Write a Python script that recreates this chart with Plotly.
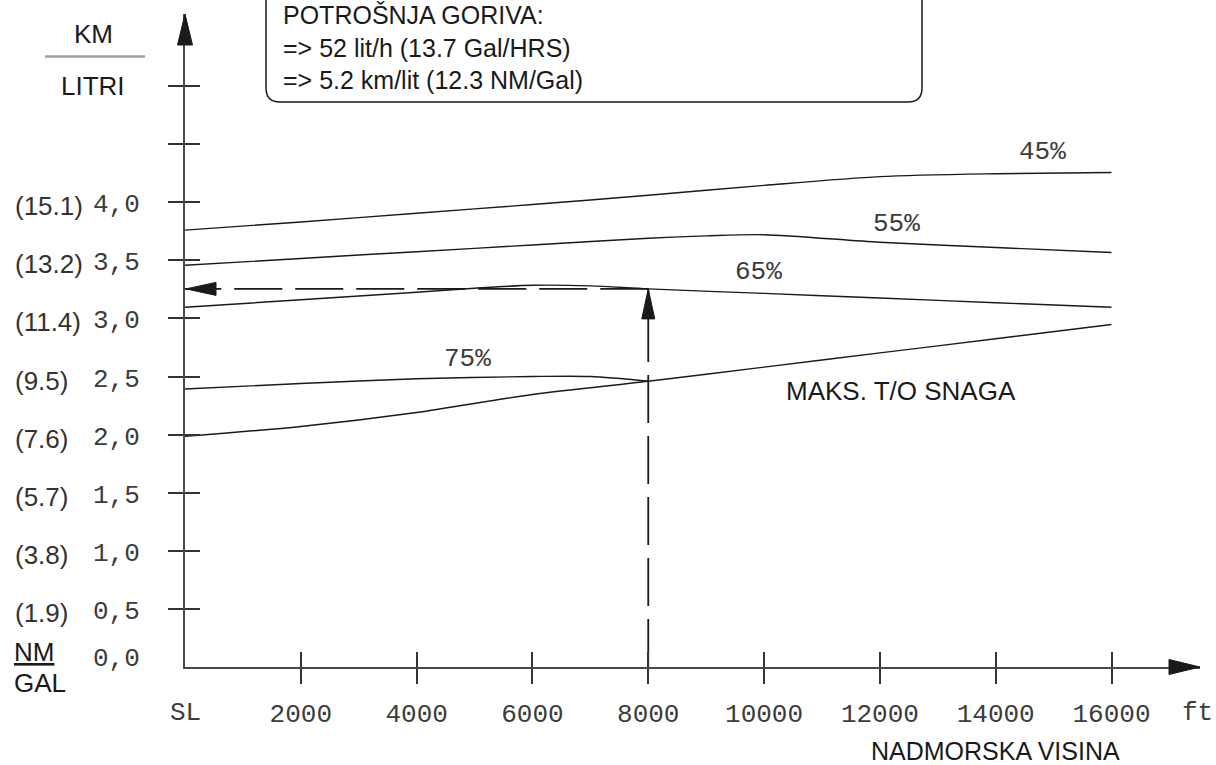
import plotly.graph_objects as go

# ---------------- data ----------------
alt_ft = [0, 2000, 4000, 6000, 8000, 10000, 12000, 14000, 16000]
x_tick_vals = [2000, 4000, 6000, 8000, 10000, 12000, 14000, 16000]
x_tick_text = ["2000", "4000", "6000", "8000", "10000", "12000", "14000", "16000"]

pwr45 = [3.76, 3.83, 3.905, 3.98, 4.06, 4.145, 4.22, 4.245, 4.255]
alt_55 = [0, 2000, 4000, 6000, 8000, 9000, 10000, 12000, 14000, 16000]
pwr55 = [3.457, 3.516, 3.574, 3.632, 3.69, 3.71, 3.72, 3.655, 3.61, 3.567]
alt_65 = [0, 2000, 4000, 5000, 6000, 7000, 8000, 10000, 12000, 14000, 16000]
pwr65 = [3.096, 3.16, 3.225, 3.26, 3.285, 3.28, 3.254, 3.215, 3.175, 3.135, 3.096]
alt_75 = [0, 2000, 4000, 6000, 7000, 8000]
pwr75 = [2.393, 2.44, 2.48, 2.50, 2.50, 2.46]
max_to = [1.985, 2.07, 2.19, 2.345, 2.459, 2.581, 2.703, 2.825, 2.947]

example_alt = 8000
example_km_l = 3.254

y_tick_vals = [0.5, 1.0, 1.5, 2.0, 2.5, 3.0, 3.5, 4.0, 4.5, 5.0]
y_label_vals = [4.0, 3.5, 3.0, 2.5, 2.0, 1.5, 1.0, 0.5, 0.0]
y_label_km = ["4,0", "3,5", "3,0", "2,5", "2,0", "1,5", "1,0", "0,5", "0,0"]
y_label_nm = ["(15.1)", "(13.2)", "(11.4)", "(9.5)", "(7.6)", "(5.7)", "(3.8)", "(1.9)", ""]

curve_labels = ["45%", "55%", "65%", "75%"]
curve_label_x = [14800, 12280, 9910, 4880]
curve_label_y = [4.436, 3.815, 3.398, 2.654]

box_lines = ["POTROŠNJA GORIVA:", "=> 52 lit/h (13.7 Gal/HRS)", "=> 5.2 km/lit (12.3 NM/Gal)"]

# ---------------- style ----------------
W, H = 1216, 765
ML, MR, MT, MB = 185, 16, 14, 98
PW, PH = W - ML - MR, H - MT - MB
PX_PER_FT = 926.5 / 16000
PX_PER_UNIT = 116.2
XMAX = PW / PX_PER_FT
YMAX = PH / PX_PER_UNIT

TXT = "Liberation Sans, Arial, sans-serif"
NUM = "Liberation Mono, DejaVu Sans Mono, monospace"
INK = "#1a1a1a"
NUMC = "#3c3c3c"
AX = "#4a4a4a"


def px_x(p):
    return (p - ML) / PW


def px_y(p):
    return (H - MB - p) / PH


fig = go.Figure()
line_style = dict(color=INK, width=1.4, shape="spline", smoothing=0.8)
for xs, ys in [(alt_ft, pwr45), (alt_55, pwr55), (alt_65, pwr65), (alt_75, pwr75), (alt_ft, max_to)]:
    fig.add_trace(go.Scatter(x=xs, y=ys, mode="lines", line=line_style, hoverinfo="skip", showlegend=False))

# dummy trace for overlay axes carrying inward ticks
fig.add_trace(go.Scatter(x=[None], y=[None], xaxis="x2", yaxis="y2", showlegend=False, hoverinfo="skip"))

# dashed example lines
dash = "48px,13px"
fig.add_trace(go.Scatter(x=[example_alt, 0], y=[example_km_l, example_km_l], mode="lines",
                         line=dict(color=INK, width=1.8, dash=dash), hoverinfo="skip", showlegend=False))
fig.add_trace(go.Scatter(x=[example_alt, example_alt], y=[0, example_km_l], mode="lines",
                         line=dict(color=INK, width=1.8, dash=dash), hoverinfo="skip", showlegend=False))

shapes = []
# arrowheads
shapes.append(dict(type="path", xref="paper", yref="paper", xsizemode="pixel", ysizemode="pixel",
                   xanchor=0, yanchor=1, path="M 0,0 L -7.5,-31 L 7.5,-31 Z",
                   fillcolor=INK, line=dict(color=INK, width=1)))
shapes.append(dict(type="path", xref="paper", yref="paper", xsizemode="pixel", ysizemode="pixel",
                   xanchor=1, yanchor=0, path="M 0,0 L -31,7.5 L -31,-7.5 Z",
                   fillcolor=INK, line=dict(color=INK, width=1)))
shapes.append(dict(type="path", xref="x", yref="y", xsizemode="pixel", ysizemode="pixel",
                   xanchor=0, yanchor=example_km_l, path="M 1,0 L 31,6.5 L 31,-6.5 Z",
                   fillcolor=INK, line=dict(color=INK, width=1)))
shapes.append(dict(type="path", xref="x", yref="y", xsizemode="pixel", ysizemode="pixel",
                   xanchor=example_alt, yanchor=example_km_l, path="M 0,0 L -6.5,-30 L 6.5,-30 Z",
                   fillcolor=INK, line=dict(color=INK, width=1)))
# KM / LITRI divider
shapes.append(dict(type="line", xref="paper", yref="paper", x0=px_x(45), x1=px_x(145),
                   y0=px_y(56.5), y1=px_y(56.5), line=dict(color="#a0a0a0", width=2.5)))
# info box with rounded bottom corners
bx0, bx1, byb, byt = px_x(266), px_x(922), px_y(102), px_y(-20)
rdx, rdy = 14 / PW, 14 / PH
box_path = (f"M {bx0},{byt} L {bx0},{byb + rdy} Q {bx0},{byb} {bx0 + rdx},{byb} "
            f"L {bx1 - rdx},{byb} Q {bx1},{byb} {bx1},{byb + rdy} L {bx1},{byt}")
shapes.append(dict(type="path", xref="paper", yref="paper", path=box_path,
                   line=dict(color=INK, width=1.5)))


def note(text, x, y, xref="paper", yref="paper", xanchor="center", yanchor="middle",
         family=TXT, color=INK, **kw):
    font = dict(family=family, size=kw.pop("size", 26), color=color)
    if "lineposition" in kw:
        font["lineposition"] = kw.pop("lineposition")
    return dict(text=text, x=x, y=y, xref=xref, yref=yref, xanchor=xanchor, yanchor=yanchor,
                showarrow=False, font=font, **kw)


ann = []
for t, x, y in zip(curve_labels, curve_label_x, curve_label_y):
    ann.append(note(t, x, y, xref="x", yref="y", family=NUM, color=NUMC))
ann.append(note("MAKS. T/O SNAGA", 12364, 2.379, xref="x", yref="y"))
ann.append(note("<br>".join(box_lines), px_x(281), px_y(47), xanchor="left", align="left", size=25))
for v, km, nm in zip(y_label_vals, y_label_km, y_label_nm):
    shift = -3 if v > 0 else 8
    ann.append(note(km, px_x(142), v, yref="y", xanchor="right", family=NUM, color=NUMC, yshift=shift))
    if nm:
        ann.append(note(nm, px_x(13), v, yref="y", xanchor="left", color="#333", yshift=shift - 1))
ann.append(note("KM", px_x(93), px_y(34)))
ann.append(note("LITRI", px_x(93), px_y(86)))
ann.append(note("NM", px_x(12), px_y(652), xanchor="left", lineposition="under"))
ann.append(note("GAL", px_x(12), px_y(683), xanchor="left"))
ann.append(note("SL", 0, px_y(713), xref="x", family=NUM, color=NUMC))
ann.append(note("ft", px_x(1197), px_y(713), family=NUM, color=NUMC))
ann.append(note("NADMORSKA VISINA", px_x(995), px_y(751), size=25))

common_x = dict(range=[0, XMAX], showgrid=False, zeroline=False, tickvals=x_tick_vals,
                ticklen=15, tickwidth=1.5, tickcolor="#333", fixedrange=True)
common_y = dict(range=[0, YMAX], showgrid=False, zeroline=False, tickvals=y_tick_vals,
                ticklen=15, tickwidth=1.5, tickcolor="#333", fixedrange=True)

fig.update_layout(
    width=W, height=H, autosize=False,
    margin=dict(l=ML, r=MR, t=MT, b=MB, pad=0),
    paper_bgcolor="white", plot_bgcolor="white",
    showlegend=False,
    xaxis=dict(**common_x, ticks="outside", showline=True, linecolor=AX, linewidth=2,
               ticktext=x_tick_text, tickfont=dict(family=NUM, size=26, color=NUMC),
               ticklabelstandoff=7),
    yaxis=dict(**common_y, ticks="outside", showline=True, linecolor=AX, linewidth=2,
               showticklabels=False),
    xaxis2=dict(**common_x, ticks="inside", overlaying="x", anchor="y2", side="bottom",
                showline=False, showticklabels=False),
    yaxis2=dict(**common_y, ticks="inside", overlaying="y", anchor="x2", side="left",
                showline=False, showticklabels=False),
    shapes=shapes,
    annotations=ann,
)

fig.write_html("out.html")
